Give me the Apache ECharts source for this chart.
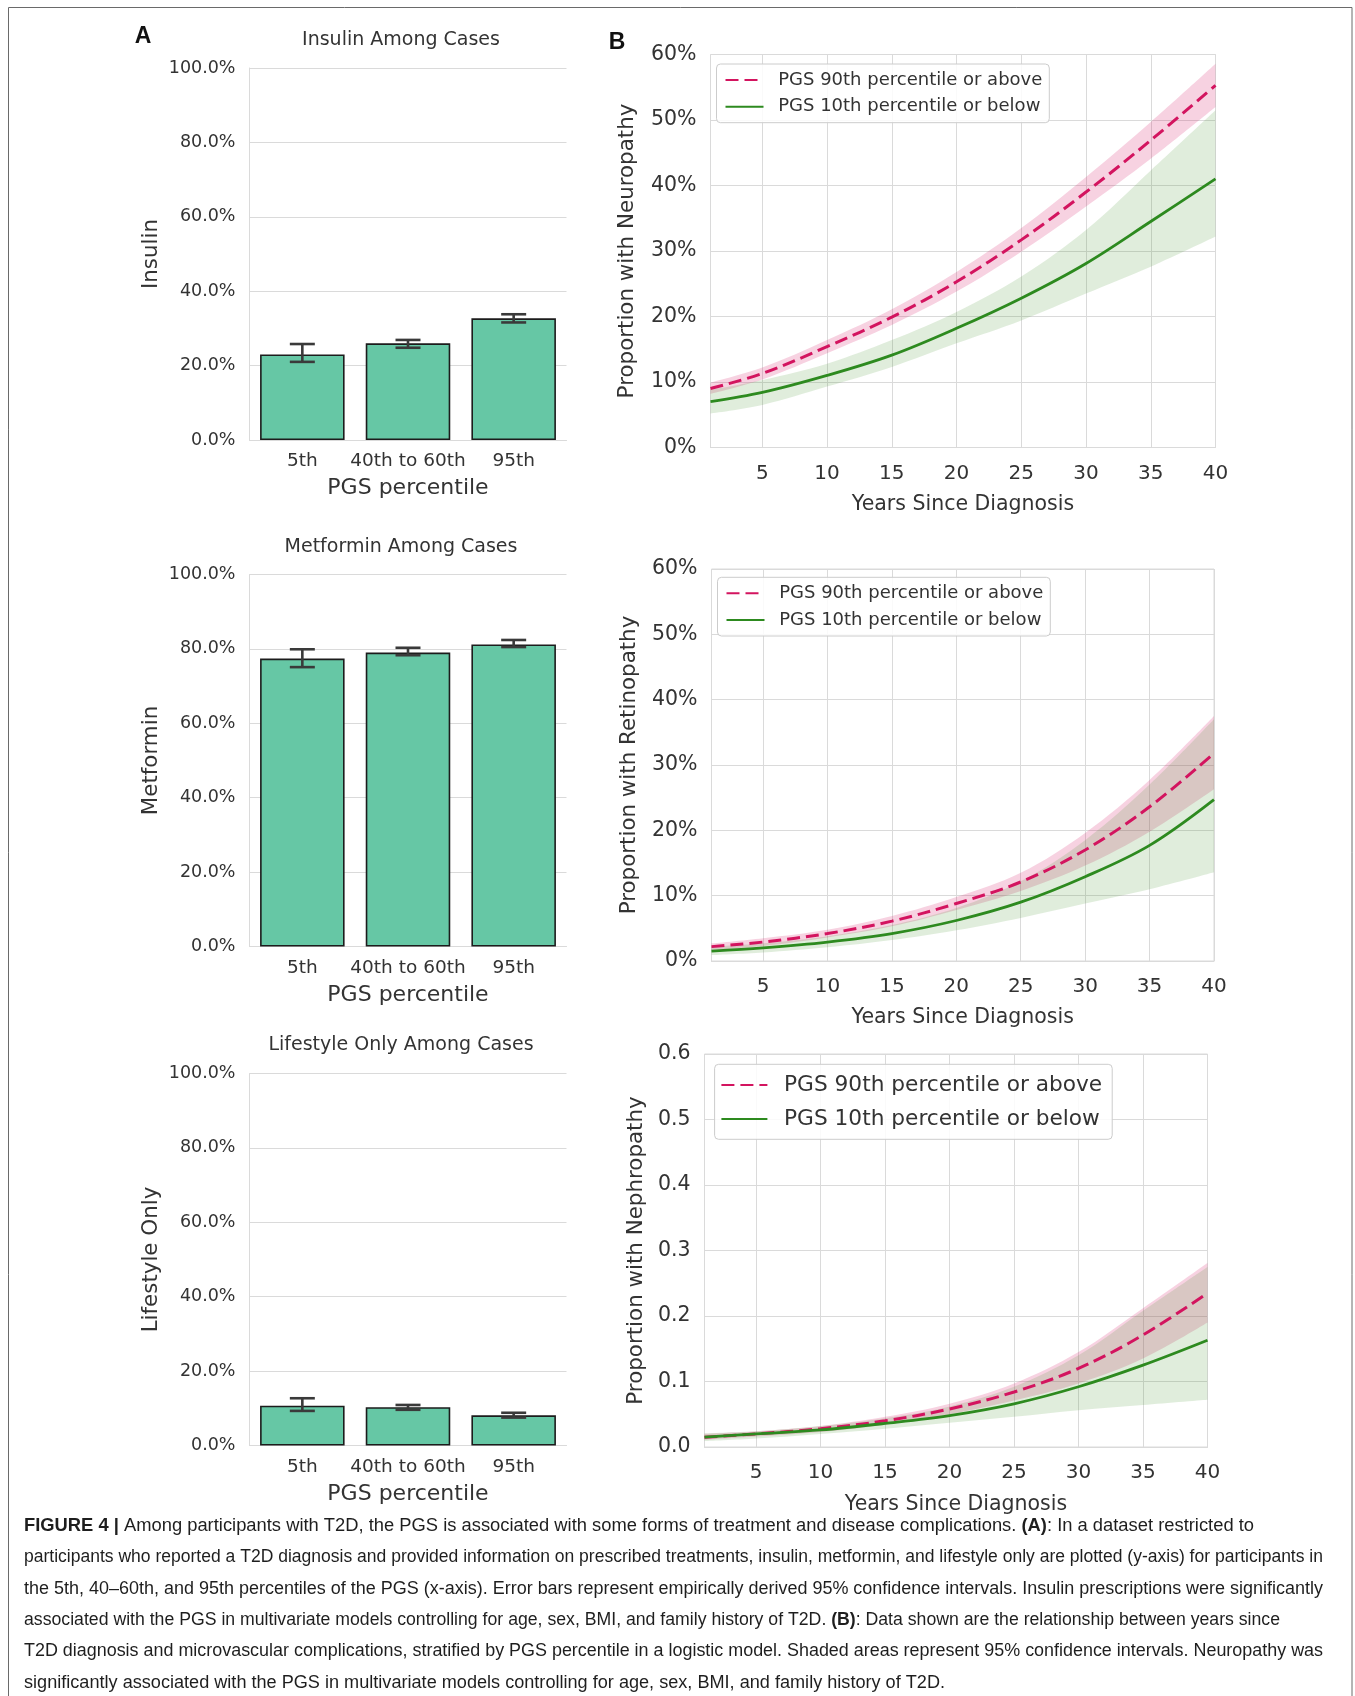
<!DOCTYPE html>
<html>
<head>
<meta charset="utf-8">
<title>Figure 4</title>
<script src="https://cdn.jsdelivr.net/npm/echarts@6/dist/echarts.min.js"></script>
<style>
  html, body { margin: 0; padding: 0; background: #ffffff; }
  #chart { width: 1355px; height: 1696px; }
</style>
</head>
<body>
<div id="chart"></div>
<script>
// ---------- Panel A: treatments by PGS group (percent of cases) ----------
const pgsGroups = ['5th', '40th to 60th', '95th'];

const insulinPct   = [23.0, 26.0, 32.7];
const insulinLow   = [21.0, 24.8, 31.6];
const insulinHigh  = [25.8, 26.9, 33.8];

const metforminPct  = [77.4, 79.0, 81.2];
const metforminLow  = [75.1, 78.3, 80.5];
const metforminHigh = [79.9, 80.3, 82.4];

const lifestylePct  = [10.7, 10.3, 8.1];
const lifestyleLow  = [9.3, 9.6, 7.5];
const lifestyleHigh = [12.7, 10.9, 8.8];

const pctTicks = [0, 20, 40, 60, 80, 100];

// ---------- Panel B: complications by years since diagnosis ----------
const years     = [1, 5, 10, 15, 20, 25, 30, 35, 40];
const yearTicks = [5, 10, 15, 20, 25, 30, 35, 40];

// Neuropathy (%)
const neuroHigh      = [9.0, 11.3, 15.4, 19.9, 25.3, 31.7, 39.0, 46.9, 55.3];
const neuroHighUpper = [9.9, 12.2, 16.4, 21.1, 26.8, 33.5, 41.3, 49.7, 58.6];
const neuroHighLower = [8.2, 10.4, 14.4, 18.7, 23.8, 29.9, 36.8, 44.1, 52.0];
const neuroLow       = [7.0, 8.4, 11.0, 14.1, 18.2, 22.8, 28.1, 34.5, 41.0];
const neuroLowUpper  = [8.8, 10.3, 12.8, 16.4, 20.7, 26.1, 33.2, 42.3, 51.5];
const neuroLowLower  = [5.2, 6.5, 9.3, 12.3, 15.9, 19.4, 23.5, 27.6, 32.2];

// Retinopathy (%)
const retinoHigh      = [2.2, 2.9, 4.2, 6.1, 8.8, 12.1, 17.0, 23.6, 31.8];
const retinoHighUpper = [2.7, 3.5, 4.8, 6.9, 9.8, 13.5, 19.6, 27.7, 37.5];
const retinoHighLower = [1.7, 2.3, 3.6, 5.3, 7.8, 10.7, 14.6, 19.8, 26.3];
const retinoLow       = [1.5, 2.0, 2.9, 4.2, 6.2, 9.0, 12.9, 17.7, 24.7];
const retinoLowUpper  = [2.2, 2.7, 3.8, 5.5, 8.1, 12.2, 18.5, 27.0, 37.0];
const retinoLowLower  = [0.9, 1.3, 2.1, 3.2, 4.7, 6.6, 8.8, 11.0, 13.6];

// Nephropathy (proportion)
const nephroHigh      = [0.015, 0.020, 0.028, 0.040, 0.058, 0.084, 0.120, 0.171, 0.235];
const nephroHighUpper = [0.020, 0.024, 0.032, 0.046, 0.066, 0.097, 0.145, 0.212, 0.281];
const nephroHighLower = [0.011, 0.016, 0.023, 0.034, 0.050, 0.071, 0.097, 0.135, 0.190];
const nephroLow       = [0.015, 0.020, 0.026, 0.036, 0.048, 0.066, 0.092, 0.125, 0.163];
const nephroLowUpper  = [0.021, 0.024, 0.032, 0.044, 0.062, 0.092, 0.140, 0.208, 0.275];
const nephroLowLower  = [0.009, 0.013, 0.020, 0.028, 0.037, 0.046, 0.056, 0.064, 0.072];

const HIGH_NAME = 'PGS 90th percentile or above';
const LOW_NAME  = 'PGS 10th percentile or below';

// ---------- styling ----------
const FONT     = "'DejaVu Sans', sans-serif";
const FONT_CAP = "'Liberation Sans', Arial, sans-serif";
const TEXT     = '#333333';
const GRID_CLR = '#dadada';
const BAR_CLR  = '#66c7a5';
const RED      = '#d3145f';
const GREEN    = '#2d8a1f';
const RED_BAND   = 'rgba(214, 30, 105, 0.20)';
const GREEN_BAND = 'rgba(70, 150, 50, 0.17)';
const SMOOTH = 0.35;

const treatmentPanels = [
  { title: 'Insulin Among Cases',        axisName: 'Insulin',        values: insulinPct,   low: insulinLow,   high: insulinHigh,
    grid: { left: 249.5, top: 68,     width: 317, height: 372 }, titleY: 40 },
  { title: 'Metformin Among Cases',      axisName: 'Metformin',      values: metforminPct, low: metforminLow, high: metforminHigh,
    grid: { left: 249.5, top: 574.5,  width: 317, height: 372 }, titleY: 547 },
  { title: 'Lifestyle Only Among Cases', axisName: 'Lifestyle Only', values: lifestylePct, low: lifestyleLow, high: lifestyleHigh,
    grid: { left: 249.5, top: 1073.5, width: 317, height: 372 }, titleY: 1045 }
];

const complicationPanels = [
  { axisName: 'Proportion with Neuropathy', max: 60, interval: 10, fmt: v => v + '%', nameGap: 73, labelShift: 7, xNameGap: 47,
    high: neuroHigh, highUp: neuroHighUpper, highLo: neuroHighLower,
    low: neuroLow, lowUp: neuroLowUpper, lowLo: neuroLowLower,
    grid: { left: 710.5, top: 54.5, width: 505, height: 393 },
    legend: { left: 716.5, top: 64, fontSize: 18, itemWidth: 38, itemHeight: 18, itemGap: 8.7, padding: [7, 7, 7, 8], textPad: 9.7 } },
  { axisName: 'Proportion with Retinopathy', max: 60, interval: 10, fmt: v => v + '%', nameGap: 72, labelShift: 7, xNameGap: 46,
    high: retinoHigh, highUp: retinoHighUpper, highLo: retinoHighLower,
    low: retinoLow, lowUp: retinoLowUpper, lowLo: retinoLowLower,
    grid: { left: 711.5, top: 569, width: 502.5, height: 392 },
    legend: { left: 717.5, top: 577.3, fontSize: 18, itemWidth: 38, itemHeight: 18, itemGap: 8.7, padding: [7, 7, 7, 8], textPad: 9.7 } },
  { axisName: 'Proportion with Nephropathy', max: 0.6, interval: 0.1, fmt: v => v.toFixed(1), nameGap: 58, labelShift: 3, xNameGap: 47,
    high: nephroHigh, highUp: nephroHighUpper, highLo: nephroHighLower,
    low: nephroLow, lowUp: nephroLowUpper, lowLo: nephroLowLower,
    grid: { left: 704.5, top: 1054, width: 503, height: 393 },
    legend: { left: 714.6, top: 1064.3, fontSize: 21.7, itemWidth: 46, itemHeight: 22, itemGap: 12, padding: [9.7, 10, 9.3, 5.8], textPad: 11.6 } }
];

// caption lines; "end" is the right edge each line is set to
const captionLines = [
  { text: '{b|FIGURE 4 |} Among participants with T2D, the PGS is associated with some forms of treatment and disease complications. {b|(A)}: In a dataset restricted to', end: 1254 },
  { text: 'participants who reported a T2D diagnosis and provided information on prescribed treatments, insulin, metformin, and lifestyle only are plotted (y-axis) for participants in', end: 1323 },
  { text: 'the 5th, 40\u201360th, and 95th percentiles of the PGS (x-axis). Error bars represent empirically derived 95% confidence intervals. Insulin prescriptions were significantly', end: 1323 },
  { text: 'associated with the PGS in multivariate models controlling for age, sex, BMI, and family history of T2D. {b|(B)}: Data shown are the relationship between years since', end: 1280 },
  { text: 'T2D diagnosis and microvascular complications, stratified by PGS percentile in a logistic model. Shaded areas represent 95% confidence intervals. Neuropathy was', end: 1323 },
  { text: 'significantly associated with the PGS in multivariate models controlling for age, sex, BMI, and family history of T2D.', end: 945 }
];

// ---------- option assembly ----------
const grids = [], xAxes = [], yAxes = [], series = [], legends = [], graphics = [];

function errorBarItem(params, api) {
  const k = api.value(0);
  const pLo = api.coord([k, api.value(1)]);
  const pHi = api.coord([k, api.value(2)]);
  const half = 12.5;
  const st = { stroke: '#3a3a3a', lineWidth: 2.6 };
  return {
    type: 'group',
    children: [
      { type: 'line', shape: { x1: pLo[0], y1: pLo[1], x2: pHi[0], y2: pHi[1] }, style: st },
      { type: 'line', shape: { x1: pLo[0] - half, y1: pLo[1], x2: pLo[0] + half, y2: pLo[1] }, style: st },
      { type: 'line', shape: { x1: pHi[0] - half, y1: pHi[1], x2: pHi[0] + half, y2: pHi[1] }, style: st }
    ]
  };
}

treatmentPanels.forEach((p, i) => {
  grids.push(Object.assign({ outerBoundsMode: 'none' }, p.grid));
  xAxes.push({
    type: 'category', gridIndex: i, data: pgsGroups,
    axisLine: { show: true, lineStyle: { color: GRID_CLR, width: 1 } },
    axisTick: { show: false },
    axisLabel: { interval: 0, hideOverlap: false, fontSize: 18.5, color: TEXT, fontFamily: FONT, margin: 12 },
    splitLine: { show: false },
    name: 'PGS percentile', nameLocation: 'middle', nameGap: 37.5,
    nameTextStyle: { fontSize: 22, color: TEXT, fontFamily: FONT }
  });
  yAxes.push({
    type: 'value', gridIndex: i, min: pctTicks[0], max: pctTicks[pctTicks.length - 1], interval: 20,
    axisLine: { show: true, lineStyle: { color: GRID_CLR, width: 1 } },
    axisTick: { show: false },
    splitLine: { show: true, lineStyle: { color: GRID_CLR, width: 1 } },
    axisLabel: { formatter: v => v.toFixed(1) + '%', fontSize: 17.5, color: TEXT, fontFamily: FONT, margin: 14 },
    name: p.axisName, nameLocation: 'middle', nameGap: 88,
    nameTextStyle: { fontSize: 21.4, color: TEXT, fontFamily: FONT }
  });
  series.push({
    type: 'bar', xAxisIndex: i, yAxisIndex: i, data: p.values, barWidth: '80%', silent: true, z: 2,
    itemStyle: { color: BAR_CLR, borderColor: '#1c1c1c', borderWidth: 1.6 }
  });
  series.push({
    type: 'custom', xAxisIndex: i, yAxisIndex: i, silent: true, z: 3,
    data: pgsGroups.map((g, k) => [k, p.low[k], p.high[k]]),
    encode: { x: 0, y: [1, 2] },
    renderItem: errorBarItem
  });
  graphics.push({
    type: 'text', x: 401, y: p.titleY, silent: true,
    style: { text: p.title, fontSize: 19, fontFamily: FONT, fill: TEXT, align: 'center', verticalAlign: 'middle' }
  });
});

// Bezier path through pixel points, using the same control-point rule as the line series' smoothing
function smoothPath(pts, s, start) {
  let d = (start ? 'M' : 'L') + pts[0][0] + ',' + pts[0][1];
  let cp0 = pts[0];
  for (let i = 1; i < pts.length; i++) {
    const p = pts[i], prev = pts[i - 1], next = pts[i + 1];
    let cp1, nextCp0;
    if (!next) {
      cp1 = p; nextCp0 = p;
    } else {
      const vx = next[0] - prev[0], vy = next[1] - prev[1];
      const l0 = Math.hypot(p[0] - prev[0], p[1] - prev[1]);
      const l1 = Math.hypot(next[0] - p[0], next[1] - p[1]);
      const r = l1 / (l0 + l1);
      cp1 = [p[0] - vx * s * (1 - r), p[1] - vy * s * (1 - r)];
      nextCp0 = [p[0] + vx * s * r, p[1] + vy * s * r];
    }
    d += ' C' + cp0[0] + ',' + cp0[1] + ' ' + cp1[0] + ',' + cp1[1] + ' ' + p[0] + ',' + p[1];
    cp0 = nextCp0;
  }
  return d;
}

// confidence band: one filled path between the upper and lower bounds of the series data
function bandItem(color) {
  return function (params, api) {
    if (params.dataIndexInside !== 0) return null;
    const n = params.dataInsideLength;
    const up = [], lo = [];
    for (let k = 0; k < n; k++) {
      const x = api.value(0, k);
      up.push(api.coord([x, api.value(2, k)]));
      lo.push(api.coord([x, api.value(1, k)]));
    }
    lo.reverse();
    return {
      type: 'path',
      shape: { pathData: smoothPath(up, SMOOTH, true) + ' ' + smoothPath(lo, SMOOTH, false) + ' Z' },
      style: { fill: color, stroke: null }
    };
  };
}

function bandSeries(idx, lower, upper, color) {
  return {
    type: 'custom', xAxisIndex: idx, yAxisIndex: idx, silent: true, z: 1, clip: true,
    data: years.map((x, k) => [x, lower[k], upper[k]]),
    encode: { x: 0, y: [1, 2] },
    renderItem: bandItem(color)
  };
}

function pairs(xs, ys) { return xs.map((x, k) => [x, ys[k]]); }

complicationPanels.forEach((p, j) => {
  const idx = treatmentPanels.length + j;
  grids.push(Object.assign({ outerBoundsMode: 'none', show: true, borderColor: GRID_CLR, borderWidth: 1, backgroundColor: 'transparent' }, p.grid));
  xAxes.push({
    type: 'value', gridIndex: idx, min: years[0], max: years[years.length - 1],
    axisLine: { show: true, lineStyle: { color: GRID_CLR, width: 1 } },
    axisTick: { show: false, customValues: yearTicks },
    axisLabel: { customValues: yearTicks, fontSize: 20, color: TEXT, fontFamily: FONT, margin: 16 },
    splitLine: { show: true, lineStyle: { color: GRID_CLR, width: 1 } },
    name: 'Years Since Diagnosis', nameLocation: 'middle', nameGap: p.xNameGap,
    nameTextStyle: { fontSize: 20.5, color: TEXT, fontFamily: FONT }
  });
  yAxes.push({
    type: 'value', gridIndex: idx, min: 0, max: p.max, interval: p.interval,
    axisLine: { show: false }, axisTick: { show: false },
    splitLine: { show: true, lineStyle: { color: GRID_CLR, width: 1 } },
    axisLabel: { formatter: p.fmt, fontSize: 20.5, color: TEXT, fontFamily: FONT, margin: 14, padding: [p.labelShift, 0, 0, 0] },
    name: p.axisName, nameLocation: 'middle', nameGap: p.nameGap,
    nameTextStyle: { fontSize: 21.4, color: TEXT, fontFamily: FONT }
  });
  series.push(bandSeries(idx, p.highLo, p.highUp, RED_BAND));
  series.push(bandSeries(idx, p.lowLo, p.lowUp, GREEN_BAND));
  series.push({
    type: 'line', name: HIGH_NAME, xAxisIndex: idx, yAxisIndex: idx, data: pairs(years, p.high),
    smooth: SMOOTH, symbol: 'none', silent: true, z: 3,
    lineStyle: { color: RED, width: 3, type: [13, 6] }, itemStyle: { color: RED }
  });
  series.push({
    type: 'line', name: LOW_NAME, xAxisIndex: idx, yAxisIndex: idx, data: pairs(years, p.low),
    smooth: SMOOTH, symbol: 'none', silent: true, z: 3,
    lineStyle: { color: GREEN, width: 2.8 }, itemStyle: { color: GREEN }
  });
  const L = p.legend;
  legends.push({
    orient: 'vertical', left: L.left, top: L.top, data: [HIGH_NAME, LOW_NAME], selectedMode: false,
    itemWidth: L.itemWidth, itemHeight: L.itemHeight, itemGap: L.itemGap, padding: L.padding,
    borderColor: '#cccccc', borderWidth: 1, borderRadius: 4, backgroundColor: 'rgba(255,255,255,0.85)',
    itemStyle: { opacity: 0 },
    textStyle: { fontSize: L.fontSize, color: TEXT, fontFamily: FONT, padding: [0, 0, 0, L.textPad] },
    z: 5
  });
});

// panel letters and outer frame
graphics.push({ type: 'rect', silent: true, z: -1,
  shape: { x: 8.5, y: 7.5, width: 1343.5, height: 1700 },
  style: { fill: 'none', stroke: '#6a6a6a', lineWidth: 1 } });
graphics.push({ type: 'text', x: 143, y: 37, silent: true,
  style: { text: 'A', fontSize: 23, fontWeight: 'bold', fontFamily: FONT_CAP, fill: '#111', align: 'center', verticalAlign: 'middle' } });
graphics.push({ type: 'text', x: 617, y: 43, silent: true,
  style: { text: 'B', fontSize: 23, fontWeight: 'bold', fontFamily: FONT_CAP, fill: '#111', align: 'center', verticalAlign: 'middle' } });

// caption
const CAP_SIZE = 17.5, CAP_LEFT = 24, CAP_TOP = 1526, CAP_STEP = 31.4;
const measureCtx = document.createElement('canvas').getContext('2d');
function captionWidth(markup) {
  let w = 0;
  const re = /\{b\|([^}]*)\}|([^{]+)/g;
  let m;
  while ((m = re.exec(markup)) !== null) {
    const bold = m[1] !== undefined;
    measureCtx.font = (bold ? 'bold ' : '') + CAP_SIZE + 'px ' + FONT_CAP;
    w += measureCtx.measureText(bold ? m[1] : m[2]).width;
  }
  return w;
}
captionLines.forEach((line, k) => {
  const natural = captionWidth(line.text);
  const sx = line.end ? (line.end - CAP_LEFT) / natural : 1;
  graphics.push({
    type: 'text', x: CAP_LEFT, y: CAP_TOP + k * CAP_STEP, silent: true,
    scaleX: sx,
    style: {
      text: line.text, fontSize: CAP_SIZE, fontFamily: FONT_CAP, fill: '#1e1e1e',
      align: 'left', verticalAlign: 'middle',
      rich: { b: { fontWeight: 'bold', fontSize: CAP_SIZE, fontFamily: FONT_CAP, fill: '#1e1e1e' } }
    }
  });
});

const chart = echarts.init(document.getElementById('chart'), null, { renderer: 'canvas' });
chart.setOption({
  animation: false,
  backgroundColor: '#ffffff',
  grid: grids,
  xAxis: xAxes,
  yAxis: yAxes,
  legend: legends,
  series: series,
  graphic: graphics
});
</script>
</body>
</html>
